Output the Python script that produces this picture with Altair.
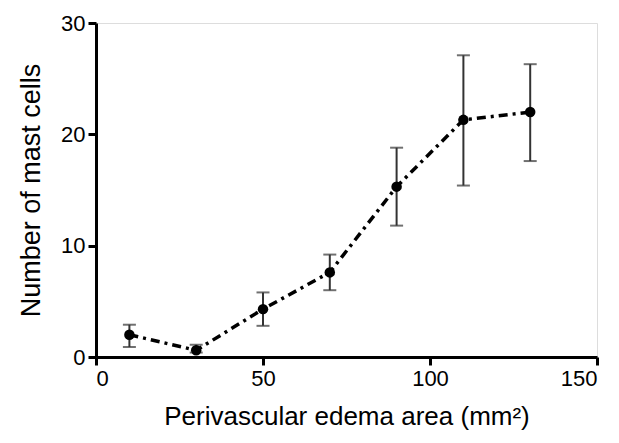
import altair as alt
import pandas as pd

area = [10, 30, 50, 70, 90, 110, 130]
mast = [2.0, 0.6, 4.3, 7.6, 15.3, 21.3, 22.0]
err_low = [0.9, 0.4, 2.8, 6.0, 11.8, 15.4, 17.6]
err_high = [2.9, 1.1, 5.8, 9.2, 18.8, 27.1, 26.3]

df = pd.DataFrame({"area": area, "mast": mast, "lo": err_low, "hi": err_high})

xs = alt.Scale(domain=[0, 150], nice=False, zero=False)
ys = alt.Scale(domain=[0, 30], nice=False, zero=False)

base = alt.Chart(df)

common = dict(grid=False, domainWidth=3, domainColor="black", tickColor="black",
              tickWidth=3, tickSize=8, labelFontSize=22,
              labelColor="black", titleColor="black", titleFontWeight="normal",
              labelFont="Liberation Sans", titleFont="Liberation Sans",
              labelPadding=3)
xax = alt.Axis(values=[0, 50, 100, 150], title="Perivascular edema area (mm²)",
               titlePadding=14, titleFontSize=26, **common)
yax = alt.Axis(values=[0, 10, 20, 30], title="Number of mast cells",
               titlePadding=15, titleFontSize=27, **common)

rules = base.mark_rule(color="#333333", strokeWidth=2).encode(
    x=alt.X("area:Q", scale=xs, axis=xax),
    y=alt.Y("lo:Q", scale=ys, axis=yax),
    y2="hi:Q",
)
cap_lo = base.mark_tick(color="#333333", thickness=2, size=13, orient="horizontal").encode(
    x=alt.X("area:Q", scale=xs), y=alt.Y("lo:Q", scale=ys))
cap_hi = base.mark_tick(color="#333333", thickness=2, size=13, orient="horizontal").encode(
    x=alt.X("area:Q", scale=xs), y=alt.Y("hi:Q", scale=ys))

line = base.mark_line(color="black", strokeWidth=3.5, strokeDash=[9, 5, 3, 5]).encode(
    x=alt.X("area:Q", scale=xs), y=alt.Y("mast:Q", scale=ys))
pts = base.mark_circle(color="black", size=110, opacity=1).encode(
    x=alt.X("area:Q", scale=xs), y=alt.Y("mast:Q", scale=ys))

chart = alt.layer(rules, cap_lo, cap_hi, line, pts).properties(
    width=501, height=334,
    autosize=alt.AutoSizeParams(type="none"),
    padding={"left": 88, "top": 15, "right": 14, "bottom": 78},
).configure_view(stroke=None).configure(background="white")

chart.save("out.html", embed_options={"renderer": "svg", "actions": False})
